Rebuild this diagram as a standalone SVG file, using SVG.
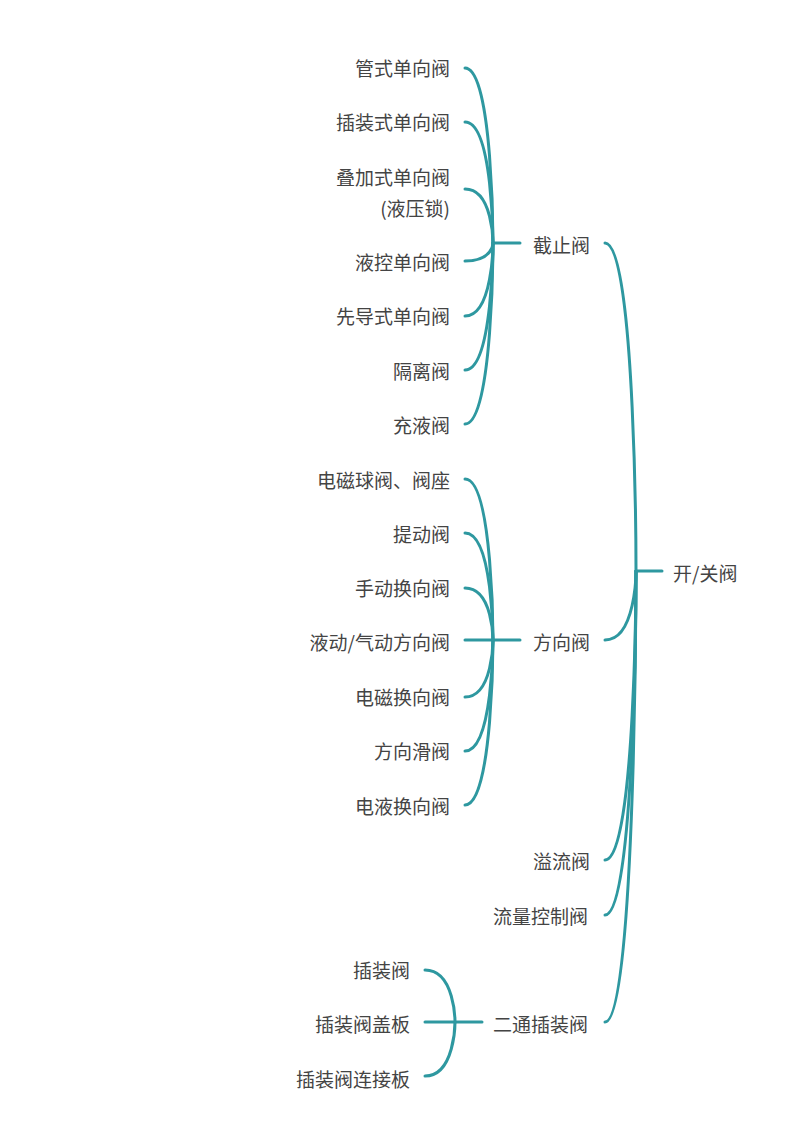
<svg xmlns="http://www.w3.org/2000/svg" width="800" height="1142" viewBox="0 0 800 1142">
<style>
text{font-family:"Noto Sans CJK SC","Noto Sans",sans-serif;font-size:19px;fill:#444;dominant-baseline:central}
.r{text-anchor:end}
.c path{fill:none;stroke:#2e98a0;stroke-width:3;stroke-linecap:round}
</style>
<rect width="800" height="1142" fill="#fff"/>
<g class="c" id="connectors">
<path d="M636 571H662"/>
<path d="M605 243C636 243 636 571 636 571"/>
<path d="M605 640C636 640 636 571 636 571"/>
<path d="M605 860C636 860 636 571 636 571"/>
<path d="M605 915C636 915 636 571 636 571"/>
<path d="M605 1022C636 1022 636 571 636 571"/>
<path d="M493 243H520"/>
<path d="M465 68C493 68 493 243 493 243"/>
<path d="M465 122C493 122 493 243 493 243"/>
<path d="M465 189C493 189 493 243 493 243"/>
<path d="M465 261C493 261 493 243 493 243"/>
<path d="M465 316C493 316 493 243 493 243"/>
<path d="M465 370C493 370 493 243 493 243"/>
<path d="M465 424C493 424 493 243 493 243"/>
<path d="M493 640H520"/>
<path d="M465 479C493 479 493 640 493 640"/>
<path d="M465 533C493 533 493 640 493 640"/>
<path d="M465 588C493 588 493 640 493 640"/>
<path d="M465 640H493"/>
<path d="M465 697C493 697 493 640 493 640"/>
<path d="M465 751C493 751 493 640 493 640"/>
<path d="M465 805C493 805 493 640 493 640"/>
<path d="M455 1022H482"/>
<path d="M425 970C455 970 455 1022 455 1022"/>
<path d="M425 1022H455"/>
<path d="M425 1076C455 1076 455 1022 455 1022"/>
</g>
<g id="n-root"><text x="673" y="572">开/关阀</text></g>
<g id="n-jz"><text x="533" y="244">截止阀</text></g>
<g id="n-fx"><text x="533" y="641">方向阀</text></g>
<g id="n-yl"><text x="533" y="860">溢流阀</text></g>
<g id="n-ll"><text x="493" y="915">流量控制阀</text></g>
<g id="n-et"><text x="493" y="1023">二通插装阀</text></g>
<g id="n-1"><text class="r" x="450" y="67">管式单向阀</text></g>
<g id="n-2"><text class="r" x="450" y="121">插装式单向阀</text></g>
<g id="n-3"><text class="r" x="450" y="176">叠加式单向阀</text><text class="r" x="450" y="207">(液压锁)</text></g>
<g id="n-4"><text class="r" x="450" y="261">液控单向阀</text></g>
<g id="n-5"><text class="r" x="450" y="315">先导式单向阀</text></g>
<g id="n-6"><text class="r" x="450" y="370">隔离阀</text></g>
<g id="n-7"><text class="r" x="450" y="424">充液阀</text></g>
<g id="n-8"><text class="r" x="450" y="479">电磁球阀、阀座</text></g>
<g id="n-9"><text class="r" x="450" y="533">提动阀</text></g>
<g id="n-10"><text class="r" x="450" y="587">手动换向阀</text></g>
<g id="n-11"><text class="r" x="450" y="641">液动/气动方向阀</text></g>
<g id="n-12"><text class="r" x="450" y="696">电磁换向阀</text></g>
<g id="n-13"><text class="r" x="450" y="750">方向滑阀</text></g>
<g id="n-14"><text class="r" x="450" y="805">电液换向阀</text></g>
<g id="n-15"><text class="r" x="410" y="969">插装阀</text></g>
<g id="n-16"><text class="r" x="410" y="1023">插装阀盖板</text></g>
<g id="n-17"><text class="r" x="410" y="1078">插装阀连接板</text></g>
</svg>
